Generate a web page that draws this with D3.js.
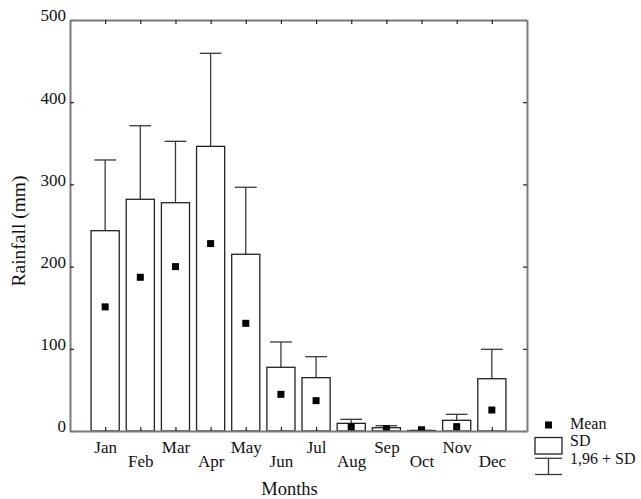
<!DOCTYPE html>
<html>
<head>
<meta charset="utf-8">
<script src="https://cdn.jsdelivr.net/npm/d3@7"></script>
<style>
  body { margin: 0; background: #fff; }
  text { font-family: "Liberation Serif", "Times New Roman", serif; fill: #111; }
</style>
</head>
<body>
<div id="chart"></div>
<script>
// values (mm)
const months = ['Jan','Feb','Mar','Apr','May','Jun','Jul','Aug','Sep','Oct','Nov','Dec'];
const meanVals = [151, 187, 200, 228, 131, 44.6, 36.9, 5, 2.8, 1.5, 5.3, 25.5];
const sdVals = [243.7, 281.9, 277.7, 346.3, 215, 77.5, 64.9, 9.3, 4, 0.5, 13, 63.6];
const upperVals = [329.7, 371.4, 352.4, 459.5, 296.5, 108.3, 90.4, 14.2, 6.4, 0.8, 20.3, 99.4];
const yTicks = [0, 100, 200, 300, 400, 500];
const legendLabels = ['Mean', 'SD', '1,96 + SD'];

const W = 641, H = 499;
const margin = {top: 20, right: 114, bottom: 68, left: 70};
const width = W - margin.left - margin.right;
const height = H - margin.top - margin.bottom;

const svg = d3.select('#chart').append('svg')
  .attr('width', W)
  .attr('height', H);

const g = svg.append('g')
  .attr('transform', 'translate(' + margin.left + ',' + margin.top + ')');

const x = d3.scalePoint()
  .domain(months)
  .range([0, width])
  .padding(1);

const y = d3.scaleLinear()
  .domain([0, 500])
  .range([height, 0]);

const step = x.step();
const barW = step * 0.8;
const capW = step * 0.62;

const rows = months.map((m, i) => ({m: m, mean: meanVals[i], sd: sdVals[i], up: upperVals[i]}));

g.append('clipPath').attr('id', 'plotclip')
  .append('rect').attr('width', width).attr('height', height);

const marks = g.append('g').attr('clip-path', 'url(#plotclip)');

// whiskers
marks.selectAll('.whisk')
  .data(rows)
  .enter().append('line')
  .attr('class', 'whisk')
  .attr('x1', d => x(d.m)).attr('x2', d => x(d.m))
  .attr('y1', d => y(d.sd)).attr('y2', d => y(d.up))
  .attr('stroke', '#3a3a3a').attr('stroke-width', 1.3);

marks.selectAll('.cap')
  .data(rows)
  .enter().append('line')
  .attr('class', 'cap')
  .attr('x1', d => x(d.m) - capW / 2).attr('x2', d => x(d.m) + capW / 2)
  .attr('y1', d => y(d.up)).attr('y2', d => y(d.up))
  .attr('stroke', '#3a3a3a').attr('stroke-width', 1.3);

// SD boxes
marks.selectAll('.bar')
  .data(rows)
  .enter().append('rect')
  .attr('class', 'bar')
  .attr('x', d => x(d.m) - barW / 2)
  .attr('width', barW)
  .attr('y', d => y(d.sd))
  .attr('height', d => height - y(d.sd))
  .attr('fill', '#fff')
  .attr('stroke', '#222').attr('stroke-width', 1.3);

// means
marks.selectAll('.mean')
  .data(rows)
  .enter().append('rect')
  .attr('class', 'mean')
  .attr('x', d => x(d.m) - 3.5)
  .attr('y', d => y(d.mean) - 3.5)
  .attr('width', 7).attr('height', 7)
  .attr('fill', '#000');

// axes, ticks pointing inwards
const styleAxis = (sel) => {
  sel.select('.domain').attr('stroke', '#7a7a7a').attr('stroke-width', 2);
  sel.selectAll('.tick line').attr('stroke', '#222').attr('stroke-width', 1.2);
};

g.append('g')
  .attr('class', 'y axis')
  .call(d3.axisLeft(y).tickValues(yTicks).tickSizeInner(-4).tickSizeOuter(0).tickPadding(4))
  .call(styleAxis)
  .call(a => a.selectAll('text').attr('dy', '0.05em').style('font-size', '17px'));

g.append('g')
  .attr('class', 'y axis right')
  .attr('transform', 'translate(' + width + ',0)')
  .call(d3.axisRight(y).tickValues(yTicks).tickSizeInner(-4).tickSizeOuter(0).tickFormat(''))
  .call(styleAxis);

g.append('g')
  .attr('class', 'x axis top')
  .call(d3.axisTop(x).tickSizeInner(-4).tickSizeOuter(0).tickFormat(''))
  .call(styleAxis);

g.append('g')
  .attr('class', 'x axis')
  .attr('transform', 'translate(0,' + height + ')')
  .call(d3.axisBottom(x).tickSizeInner(-4).tickSizeOuter(0))
  .call(styleAxis)
  .call(a => a.selectAll('text')
    .attr('dy', 0)
    .attr('y', (d, i) => i % 2 ? 35.5 : 21.7)
    .style('font-size', '17px'));

// axis titles
svg.append('text')
  .attr('x', margin.left + width / 2 - 9)
  .attr('y', 495)
  .attr('text-anchor', 'middle')
  .style('font-size', '18.5px')
  .text('Months');

svg.append('text')
  .attr('transform', 'translate(25,231) rotate(-90)')
  .attr('text-anchor', 'middle')
  .style('font-size', '19.5px')
  .text('Rainfall (mm)');

// legend
const lx = 535, lw = 27;
const leg = svg.append('g').attr('class', 'legend');
leg.append('rect')
  .attr('x', lx + lw / 2 - 3.5).attr('y', 421.5)
  .attr('width', 7).attr('height', 7).attr('fill', '#000');
leg.append('rect')
  .attr('x', lx).attr('y', 437.5).attr('width', lw).attr('height', 16.5)
  .attr('fill', '#fff').attr('stroke', '#222').attr('stroke-width', 1.3);
leg.append('line')
  .attr('x1', lx).attr('x2', lx + lw).attr('y1', 458.3).attr('y2', 458.3)
  .attr('stroke', '#3a3a3a').attr('stroke-width', 1.3);
leg.append('line')
  .attr('x1', lx + lw / 2).attr('x2', lx + lw / 2).attr('y1', 458.3).attr('y2', 474.5)
  .attr('stroke', '#3a3a3a').attr('stroke-width', 1.3);
leg.append('line')
  .attr('x1', lx).attr('x2', lx + lw).attr('y1', 474.5).attr('y2', 474.5)
  .attr('stroke', '#3a3a3a').attr('stroke-width', 1.3);

leg.selectAll('.lt')
  .data(legendLabels)
  .enter().append('text')
  .attr('class', 'lt')
  .attr('x', 570)
  .attr('y', (d, i) => [428.5, 445.5, 463.5][i])
  .style('font-size', '16px')
  .text(d => d);
</script>
</body>
</html>
